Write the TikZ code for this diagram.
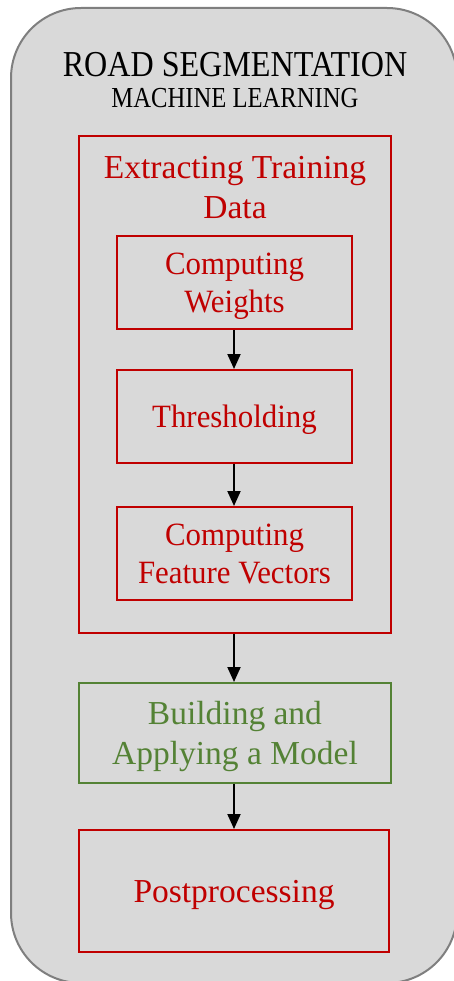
\documentclass[tikz,border=0pt]{standalone}
\usepackage{fontspec}
\setmainfont{Liberation Serif}
\newfontfamily\titlefont[FakeStretch=0.88]{Liberation Serif}
\newfontfamily\subtitlefont[FakeStretch=0.85]{Liberation Serif}
\newfontfamily\innerfont[FakeStretch=0.95]{Liberation Serif}
\usetikzlibrary{arrows.meta}
\definecolor{boxred}{HTML}{C00000}
\definecolor{boxgreen}{HTML}{548235}
\definecolor{panelfill}{HTML}{D9D9D9}
\definecolor{panelline}{HTML}{7F7F7F}
\tikzset{
  redbox/.style={draw=boxred, line width=2pt, text=boxred, inner sep=0pt, align=center, text depth=0pt},
  greenbox/.style={draw=boxgreen, line width=2pt, text=boxgreen, inner sep=0pt, align=center, text depth=0pt},
  bigtext/.style={font=\fontsize{33.5}{40}\selectfont},
  smalltext/.style={font=\innerfont\fontsize{32.5}{38}\selectfont},
  flow/.style={line width=2pt, -{Triangle[length=15pt,width=13pt]}},
}
\begin{document}
\begin{tikzpicture}[x=1pt,y=-1pt]
\useasboundingbox (0,0) rectangle (453,981);
\node[draw=panelline, fill=panelfill, line width=2pt, rounded corners=70pt,
      minimum width=446pt, minimum height=975pt, inner sep=0pt] (outer) at (234,495.5) {};
\node[anchor=base, font=\titlefont\fontsize{36.5}{40}\selectfont] (title) at (235,77) {ROAD SEGMENTATION};
\node[anchor=base, font=\subtitlefont\fontsize{29}{32}\selectfont] (subtitle) at (235,108) {MACHINE LEARNING};
\node[redbox, minimum width=312pt, minimum height=497pt] (extract) at (235,384.5) {};
\node[text=boxred, bigtext, align=center, inner sep=0pt, anchor=base] (extractlabel) at (235,219) {Extracting Training\\Data};
\node[redbox, smalltext, minimum width=235pt, minimum height=93pt] (weights) at (234.5,282.5) {Computing\\Weights};
\node[redbox, smalltext, minimum width=235pt, minimum height=93pt] (thresh) at (234.5,416.5) {Thresholding};
\node[redbox, smalltext, minimum width=235pt, minimum height=93pt] (feature) at (234.5,553.5) {Computing\\Feature Vectors};
\node[greenbox, bigtext, minimum width=312pt, minimum height=100pt] (model) at (235,733) {Building and\\Applying a Model};
\node[redbox, bigtext, minimum width=310pt, minimum height=122pt] (post) at (234,891) {Postprocessing};
\draw[flow] (weights.south -| 234,0) -- (thresh.north -| 234,0);
\draw[flow] (thresh.south -| 234,0) -- (feature.north -| 234,0);
\draw[flow] (extract.south -| 234,0) -- (model.north -| 234,0);
\draw[flow] (model.south -| 234,0) -- (post.north -| 234,0);
\end{tikzpicture}
\end{document}
